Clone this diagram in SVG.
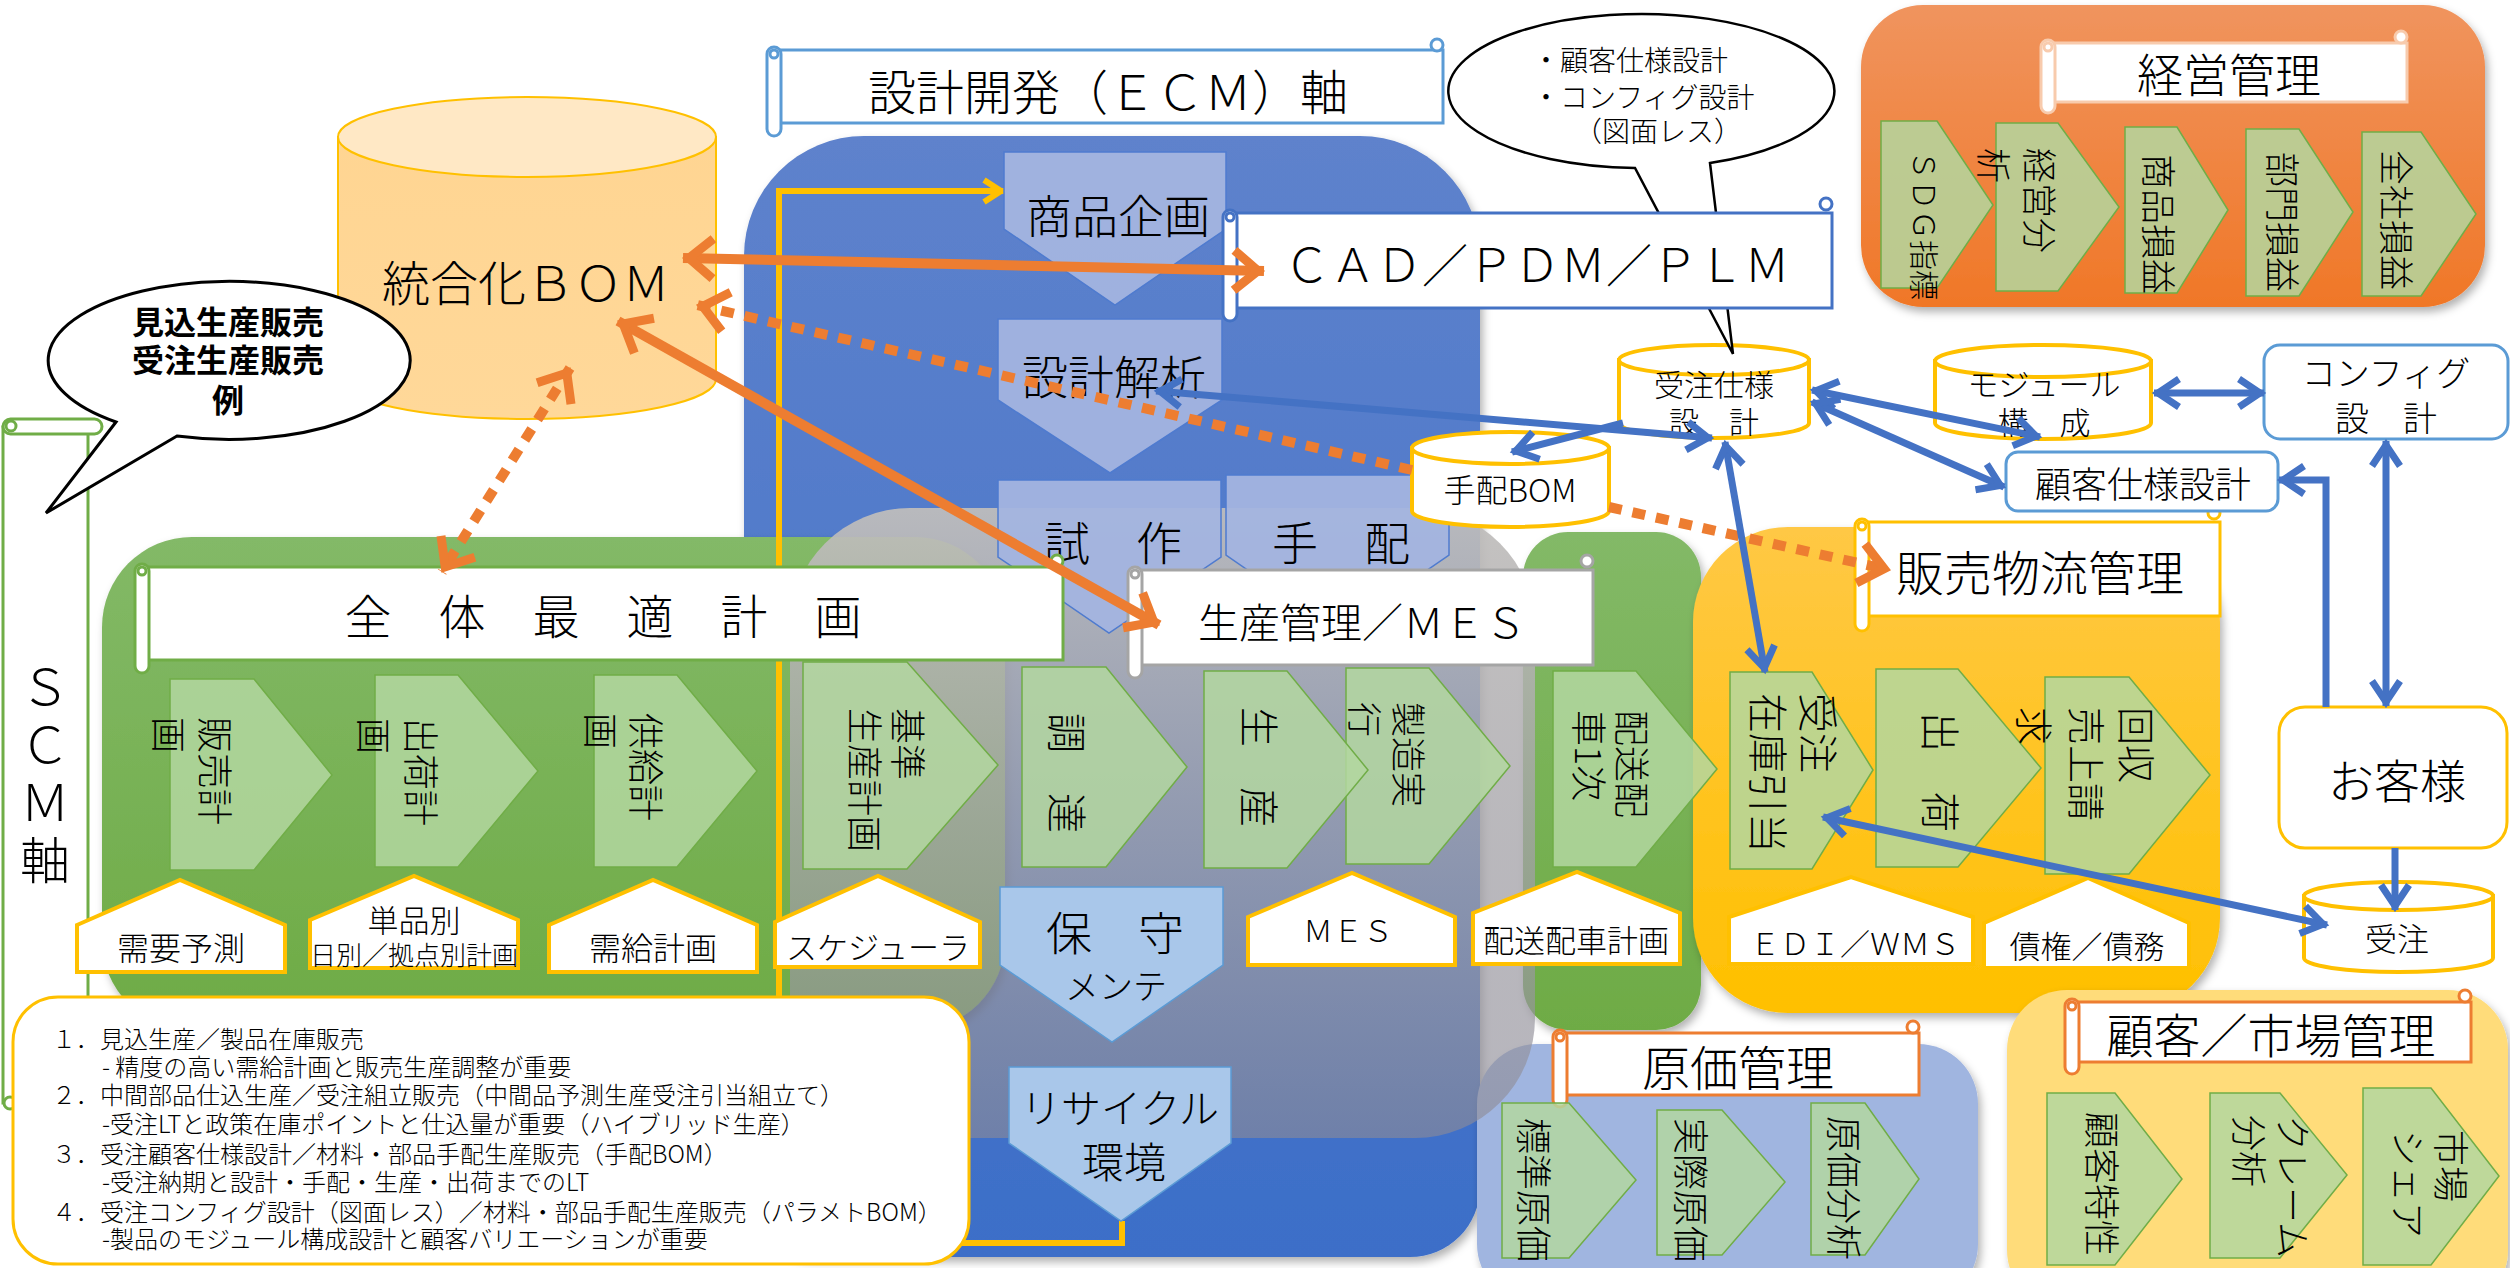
<svg xmlns="http://www.w3.org/2000/svg" width="2510" height="1268" viewBox="0 0 2510 1268">
<defs>
<style>
text{font-family:"Noto Sans CJK JP","Noto Sans",sans-serif;fill:#000;font-weight:300}
.c{text-anchor:middle;dominant-baseline:central}
.v{dominant-baseline:central}
.l{dominant-baseline:central}
.pg{fill:#B3D7A0;fill-opacity:.85;stroke:#70AD47;stroke-width:1.5}
.pb{fill:#A3B4DF;fill-opacity:.95;stroke:#4F7BCF;stroke-width:1.5}
.pl{fill:#A9C7EA;stroke:#5B9BD5;stroke-width:1.5}
.hs{fill:#fff;stroke:#FFC000;stroke-width:4}
.cy{fill:#fff;stroke:#FFC000;stroke-width:4}
.sb{fill:#fff;stroke-width:3}
.ol{fill:none;stroke:#ED7D31;stroke-width:10}
.od{fill:none;stroke:#ED7D31;stroke-width:10;stroke-dasharray:13 11}
.bl{fill:none;stroke:#4472C4;stroke-width:7}
.yl{fill:none;stroke:#FFC000;stroke-width:6}
</style>
<linearGradient id="gBlue" x1="0" y1="0" x2="0" y2="1"><stop offset="0" stop-color="#5E82CC"/><stop offset="1" stop-color="#3C6EC8"/></linearGradient>
<linearGradient id="gGreen" x1="0" y1="0" x2="0" y2="1"><stop offset="0" stop-color="#83B967"/><stop offset="1" stop-color="#6EAB45"/></linearGradient>
<linearGradient id="gYel" x1="0" y1="0" x2="0" y2="1"><stop offset="0" stop-color="#FFC845"/><stop offset="1" stop-color="#FFC000"/></linearGradient>
<linearGradient id="gOr" x1="0" y1="0" x2="0" y2="1"><stop offset="0" stop-color="#F0945E"/><stop offset="1" stop-color="#F07727"/></linearGradient>
<linearGradient id="gGray" x1="0" y1="0" x2="0" y2="1"><stop offset="0" stop-color="rgb(192,190,188)" stop-opacity=".93"/><stop offset="1" stop-color="rgb(140,138,150)" stop-opacity=".62"/></linearGradient>
<linearGradient id="gCyl" x1="0" y1="0" x2="0" y2="1"><stop offset="0" stop-color="#FFD592"/><stop offset="1" stop-color="#FFD899"/></linearGradient>
<filter id="sh" x="-5%" y="-5%" width="112%" height="115%"><feDropShadow dx="3" dy="5" stdDeviation="4" flood-color="#000" flood-opacity=".3"/></filter>
<marker id="ao" viewBox="-34 -26 40 52" markerWidth="40" markerHeight="52" refX="0" refY="0" orient="auto-start-reverse" markerUnits="userSpaceOnUse"><path d="M-30,-20 L-6,0 L-30,20" fill="none" stroke="#ED7D31" stroke-width="9" stroke-dasharray="none"/></marker>
<marker id="ab" viewBox="-30 -18 34 36" markerWidth="34" markerHeight="36" refX="0" refY="0" orient="auto-start-reverse" markerUnits="userSpaceOnUse"><path d="M-25,-14 L-4,0 L-25,14" fill="none" stroke="#4472C4" stroke-width="7"/></marker>
<marker id="ay" viewBox="-24 -14 28 28" markerWidth="28" markerHeight="28" refX="0" refY="0" orient="auto" markerUnits="userSpaceOnUse"><path d="M-20,-11 L-3,0 L-20,11" fill="none" stroke="#FFC000" stroke-width="6"/></marker>
</defs>
<rect width="2510" height="1268" fill="#fff"/>

<!-- panels -->
<g id="panel-ecm" filter="url(#sh)"><path d="M744,256 A120 120 0 0 1 864,136 H1360 A120 120 0 0 1 1480,256 V1187 A70 70 0 0 1 1410,1257 H814 A70 70 0 0 1 744,1187 Z" fill="url(#gBlue)"/></g>
<g id="panel-scm" filter="url(#sh)"><rect x="102" y="537" width="903" height="493" rx="90" fill="url(#gGreen)"/></g>
<g id="panel-delivery" filter="url(#sh)"><rect x="1523" y="532" width="178" height="498" rx="45" fill="url(#gGreen)"/></g>
<g id="panel-sales" filter="url(#sh)"><rect x="1693" y="527" width="527" height="486" rx="95" fill="url(#gYel)"/></g>
<g id="panel-mgmt" filter="url(#sh)"><rect x="1861" y="5" width="624" height="302" rx="62" fill="url(#gOr)"/></g>
<g id="panel-cost" filter="url(#sh)"><rect x="1477" y="1044" width="501" height="260" rx="60" fill="#A0B5E0"/></g>
<g id="panel-customer" filter="url(#sh)"><rect x="2007" y="990" width="501" height="320" rx="60" fill="#FFDC7A"/></g>
<g id="panel-production"><rect x="790" y="508" width="745" height="630" rx="120" fill="url(#gGray)"/></g>

<!-- ECM loop line -->
<g id="ecm-loop"><path class="yl" d="M1122,1221 V1243 H779 V191 H1004" marker-end="url(#ay)"/></g>

<!-- ECM steps -->
<g id="n-shohin"><polygon class="pb" points="1004,152 1226,152 1226,229 1115,305 1004,229"/><text class="c" x="1118" y="213" font-size="46">商品企画</text></g>
<g id="n-sekkei"><polygon class="pb" points="998,319 1222,319 1222,400 1110,473 998,400"/><text class="c" x="1114" y="374" font-size="46">設計解析</text></g>
<g id="n-shisaku"><polygon class="pb" points="998,480 1221,480 1221,557 1109,633 998,557"/><text class="c" x="1113" y="540" font-size="46">試　作</text></g>
<g id="n-tehai"><polygon class="pb" points="1226,475 1449,475 1449,555 1337,632 1226,555"/><text class="c" x="1341" y="540" font-size="46">手　配</text></g>
<g id="n-hoshu"><polygon class="pl" points="1000,887 1223,887 1223,965 1112,1042 1000,965"/><text class="c" x="1115" y="930" font-size="46">保　守</text><text class="c" x="1116" y="984" font-size="34">メンテ</text></g>
<g id="n-recycle"><polygon class="pl" points="1009,1067 1231,1067 1231,1143 1121,1221 1009,1143"/><text class="c" x="1120" y="1106" font-size="40">リサイクル</text><text class="c" x="1124" y="1159" font-size="42">環境</text></g>

<!-- SCM scroll (vertical) -->
<g id="n-scm-axis">
<g class="sb" stroke="#70AD47"><rect x="3" y="427" width="85" height="676"/><rect x="3" y="419" width="99" height="15" rx="7.5"/><circle cx="11" cy="426" r="5"/><circle cx="10" cy="1103" r="6"/></g>
<text class="c" x="45" y="683" font-size="50">Ｓ</text><text class="c" x="45" y="741" font-size="50">Ｃ</text><text class="c" x="45" y="799" font-size="50">Ｍ</text><text class="c" x="45" y="857" font-size="50">軸</text>
</g>

<!-- Scroll titles -->
<g id="n-ecm-title"><g class="sb" stroke="#5B9BD5"><rect x="774" y="50" width="669" height="73"/><rect x="767" y="47" width="14" height="89" rx="7"/><circle cx="774" cy="54" r="4"/><circle cx="1437" cy="45" r="6"/></g><text class="c" x="1108" y="89" font-size="48">設計開発（ＥＣＭ）軸</text></g>
<g id="n-zentai"><g class="sb" stroke="#70AD47"><rect x="142" y="567" width="921" height="93"/><rect x="135" y="564" width="14" height="109" rx="7"/><circle cx="142" cy="571" r="4"/><circle cx="1057" cy="561" r="6"/></g><text class="c" x="603" y="613" font-size="47">全　体　最　適　計　画</text></g>
<g id="n-seisan-kanri"><g class="sb" stroke="#A5A5A5"><rect x="1135" y="570" width="458" height="95"/><rect x="1128" y="567" width="14" height="111" rx="7"/><circle cx="1135" cy="574" r="4"/><circle cx="1587" cy="561" r="6"/></g><text class="c" x="1362" y="620" font-size="41">生産管理／ＭＥＳ</text></g>
<g id="n-hanbai-title"><g class="sb" stroke="#FFC000"><rect x="1862" y="522" width="358" height="94"/><rect x="1855" y="519" width="14" height="112" rx="7"/><circle cx="1862" cy="526" r="4"/><circle cx="2214" cy="513" r="6"/></g><text class="c" x="2040" y="570" font-size="48">販売物流管理</text></g>
<g id="n-keiei-title"><g class="sb" stroke="#F8CBAD" stroke-width="1.5"><rect x="2048" y="43" width="359" height="59"/><rect x="2041" y="40" width="14" height="73" rx="7"/><circle cx="2048" cy="47" r="4"/><circle cx="2401" cy="37" r="6"/></g><text class="c" x="2229" y="72" font-size="46">経営管理</text></g>
<g id="n-genka-title"><g class="sb" stroke="#ED7D31"><rect x="1560" y="1033" width="359" height="62"/><rect x="1553" y="1030" width="14" height="77" rx="7"/><circle cx="1560" cy="1037" r="4"/><circle cx="1913" cy="1027" r="6"/></g><text class="c" x="1738" y="1065" font-size="48">原価管理</text></g>
<g id="n-kokyaku-title"><g class="sb" stroke="#ED7D31"><rect x="2072" y="1002" width="399" height="60"/><rect x="2065" y="999" width="14" height="75" rx="7"/><circle cx="2072" cy="1006" r="4"/><circle cx="2465" cy="996" r="6"/></g><text class="c" x="2271" y="1032" font-size="47">顧客／市場管理</text></g>

<!-- SCM steps -->
<g id="n-hanbai-keikaku"><polygon class="pg" points="170,679 254,679 332,775 254,870 170,870"/><text class="v" transform="translate(217,717) rotate(90)" font-size="36">販売計</text><text class="v" transform="translate(171,717) rotate(90)" font-size="36">画</text></g>
<g id="n-shukka-keikaku"><polygon class="pg" points="375,675 458,675 538,771 458,867 375,867"/><text class="v" transform="translate(423,718) rotate(90)" font-size="36">出荷計</text><text class="v" transform="translate(376,718) rotate(90)" font-size="36">画</text></g>
<g id="n-kyokyu-keikaku"><polygon class="pg" points="594,675 677,675 757,771 677,867 594,867"/><text class="v" transform="translate(648,713) rotate(90)" font-size="36">供給計</text><text class="v" transform="translate(603,713) rotate(90)" font-size="36">画</text></g>
<g id="n-kijun"><polygon class="pg" points="803,662 907,662 998,765 907,869 803,869"/><text class="v" transform="translate(910,708) rotate(90)" font-size="36">基準</text><text class="v" transform="translate(867,708) rotate(90)" font-size="36">生産計画</text></g>
<g id="n-chotatsu"><polygon class="pg" points="1022,667 1106,667 1187,767 1106,867 1022,867"/><text class="v" transform="translate(1069,713) rotate(90)" font-size="40">調　達</text></g>
<g id="n-seizo"><polygon class="pg" points="1346,668 1429,668 1510,766 1429,864 1346,864"/><text class="v" transform="translate(1410,702) rotate(90)" font-size="35">製造実</text><text class="v" transform="translate(1366,702) rotate(90)" font-size="35">行</text></g>
<g id="n-seisan"><polygon class="pg" points="1204,671 1287,671 1368,770 1287,868 1204,868"/><text class="v" transform="translate(1261,707) rotate(90)" font-size="40">生　産</text></g>
<g id="n-haiso"><polygon class="pg" points="1553,671 1636,671 1717,769 1636,867 1553,867"/><text class="v" transform="translate(1634,710) rotate(90)" font-size="36">配送配</text><text class="v" transform="translate(1591,710) rotate(90)" font-size="36">車1次</text></g>
<g id="n-juchu-hikiate"><polygon class="pg" points="1730,672 1812,672 1873,770 1812,869 1730,869"/><text class="v" transform="translate(1820,693) rotate(90)" font-size="40">受注</text><text class="v" transform="translate(1770,693) rotate(90)" font-size="40">在庫引当</text></g>
<g id="n-shukka"><polygon class="pg" points="1876,669 1958,669 2041,768 1958,867 1876,867"/><text class="v" transform="translate(1942,712) rotate(90)" font-size="40">出　荷</text></g>
<g id="n-kaishu"><polygon class="pg" points="2045,677 2129,677 2210,775 2129,874 2045,874"/><text class="v" transform="translate(2138,707) rotate(90)" font-size="38">回収</text><text class="v" transform="translate(2088,707) rotate(90)" font-size="38">売上請</text><text class="v" transform="translate(2036,707) rotate(90)" font-size="38">求</text></g>

<!-- management steps -->
<g id="n-sdg"><polygon class="pg" points="1881,121 1937,121 1993,205 1937,288 1881,288"/><text class="v" transform="translate(1926,150) rotate(90)" font-size="30">ＳＤＧ指標</text></g>
<g id="n-keiei-bunseki"><polygon class="pg" points="1996,123 2058,123 2119,207 2058,291 1996,291"/><text class="v" transform="translate(2041,148) rotate(90)" font-size="35">経営分</text><text class="v" transform="translate(1995,148) rotate(90)" font-size="35">析</text></g>
<g id="n-shohin-soneki"><polygon class="pg" points="2125,127 2177,127 2228,210 2177,293 2125,293"/><text class="v" transform="translate(2160,154) rotate(90)" font-size="35">商品損益</text></g>
<g id="n-bumon-soneki"><polygon class="pg" points="2246,129 2299,129 2353,212 2299,296 2246,296"/><text class="v" transform="translate(2284,152) rotate(90)" font-size="35">部門損益</text></g>
<g id="n-zensha-soneki"><polygon class="pg" points="2362,132 2421,132 2476,214 2421,296 2362,296"/><text class="v" transform="translate(2398,150) rotate(90)" font-size="35">全社損益</text></g>

<!-- cost steps -->
<g id="n-hyojun"><polygon class="pg" points="1502,1103 1569,1103 1636,1180 1569,1258 1502,1258"/><text class="v" transform="translate(1536,1118) rotate(90)" font-size="36">標準原価</text></g>
<g id="n-jissai"><polygon class="pg" points="1657,1110 1722,1110 1785,1182 1722,1255 1657,1255"/><text class="v" transform="translate(1693,1118) rotate(90)" font-size="36">実際原価</text></g>
<g id="n-genka-bunseki"><polygon class="pg" points="1811,1103 1865,1103 1919,1179 1865,1255 1811,1255"/><text class="v" transform="translate(1846,1116) rotate(90)" font-size="36">原価分析</text></g>

<!-- customer steps -->
<g id="n-kokyaku-tokusei"><polygon class="pg" points="2047,1093 2115,1093 2182,1179 2115,1265 2047,1265"/><text class="v" transform="translate(2104,1112) rotate(90)" font-size="36">顧客特性</text></g>
<g id="n-claim"><polygon class="pg" points="2210,1093 2280,1093 2347,1175 2280,1258 2210,1258"/><text class="v" transform="translate(2295,1115) rotate(90)" font-size="36">クレーム</text><text class="v" transform="translate(2251,1115) rotate(90)" font-size="36">分析</text></g>
<g id="n-share"><polygon class="pg" points="2363,1088 2431,1088 2499,1176 2431,1265 2363,1265"/><text class="v" transform="translate(2453,1130) rotate(90)" font-size="36">市場</text><text class="v" transform="translate(2410,1130) rotate(90)" font-size="36">シェア</text></g>

<!-- house shapes -->
<g id="h-juyo"><polygon class="hs" points="77,925 180,880 285,925 285,972 77,972"/><text class="c" x="181" y="946" font-size="32">需要予測</text></g>
<g id="h-tanpin"><polygon class="hs" points="310,920 414,876 518,920 518,968 310,968"/><text class="c" x="414" y="918" font-size="31">単品別</text><text class="c" x="414" y="953" font-size="26">日別／拠点別計画</text></g>
<g id="h-jukyu"><polygon class="hs" points="549,925 653,880 757,925 757,972 549,972"/><text class="c" x="653" y="946" font-size="32">需給計画</text></g>
<g id="h-scheduler"><polygon class="hs" points="775,922 878,876 980,922 980,967 775,967"/><text class="c" x="878" y="945" font-size="31">スケジューラ</text></g>
<g id="h-mes"><polygon class="hs" points="1248,917 1352,873 1455,917 1455,965 1248,965"/><text class="c" x="1348" y="929" font-size="30">ＭＥＳ</text></g>
<g id="h-haisha"><polygon class="hs" points="1473,913 1577,872 1680,913 1680,964 1473,964"/><text class="c" x="1576" y="938" font-size="31">配送配車計画</text></g>
<g id="h-edi"><polygon class="hs" points="1729,917 1851,877 1973,917 1973,964 1729,964"/><text class="c" x="1855" y="942" font-size="30">ＥＤＩ／ＷＭＳ</text></g>
<g id="h-saiken"><polygon class="hs" points="1984,923 2088,878 2189,923 2189,968 1984,968"/><text class="c" x="2087" y="944" font-size="31">債権／債務</text></g>

<!-- databases -->
<g id="n-togo-bom"><path d="M338,137 V379 A189 40 0 0 0 716,379 V137 Z" fill="url(#gCyl)" stroke="#FFC000" stroke-width="2"/><ellipse cx="527" cy="137" rx="189" ry="40" fill="#FFE8C5" stroke="#FFC000" stroke-width="2"/><text class="c" x="526" y="280" font-size="48">統合化ＢＯＭ</text></g>
<g id="n-juchu-shiyo"><path class="cy" d="M1619,360 V423 A95 15 0 0 0 1809,423 V360 Z"/><ellipse class="cy" cx="1714" cy="360" rx="95" ry="15"/><text class="c" x="1714" y="383" font-size="30">受注仕様</text><text class="c" x="1714" y="420" font-size="30">設　計</text></g>
<g id="n-tehai-bom"><path class="cy" d="M1412,448 V511 A98.5 16 0 0 0 1609,511 V448 Z"/><ellipse class="cy" cx="1510.5" cy="448" rx="98.5" ry="16"/><text class="c" x="1510" y="488" font-size="32">手配BOM</text></g>
<g id="n-module"><path class="cy" d="M1935,361 V423 A108 16 0 0 0 2151,423 V361 Z"/><ellipse class="cy" cx="2043" cy="361" rx="108" ry="16"/><text class="c" x="2044" y="382" font-size="31">モジュール</text><text class="c" x="2044" y="420" font-size="31">構　成</text></g>
<g id="n-juchu"><path class="cy" d="M2304,896 V958 A94.5 14 0 0 0 2493,958 V896 Z"/><ellipse class="cy" cx="2398.5" cy="896" rx="94.5" ry="14"/><text class="c" x="2397" y="937" font-size="32">受注</text></g>

<!-- boxes -->
<g id="n-config"><rect x="2264" y="345" width="244" height="94" rx="16" fill="#fff" stroke="#5B9BD5" stroke-width="3"/><text class="c" x="2386" y="371" font-size="34">コンフィグ</text><text class="c" x="2386" y="416" font-size="34">設　計</text></g>
<g id="n-kokyaku-shiyo"><rect x="2006" y="452" width="272" height="59" rx="12" fill="#fff" stroke="#5B9BD5" stroke-width="3"/><text class="c" x="2143" y="482" font-size="36">顧客仕様設計</text></g>
<g id="n-okyakusama"><rect x="2279" y="707" width="228" height="141" rx="26" fill="#fff" stroke="#FFC000" stroke-width="3"/><text class="c" x="2397" y="778" font-size="46">お客様</text></g>

<!-- top callout -->
<g id="n-callout-top"><path d="M1710,163 L1733,354 L1635,168 A193 77 0 1 1 1710,163 Z" fill="#fff" stroke="#000" stroke-width="2.5"/><text class="l" x="1532" y="59" font-size="28">・顧客仕様設計</text><text class="l" x="1532" y="96" font-size="28">・コンフィグ設計</text><text class="l" x="1574" y="130" font-size="28">（図面レス）</text></g>

<!-- CAD scroll (over callout tail) -->
<g id="n-cad"><g class="sb" stroke="#4472C4"><rect x="1230" y="213" width="602" height="95"/><rect x="1223" y="210" width="14" height="111" rx="7"/><circle cx="1230" cy="217" r="4"/><circle cx="1826" cy="204" r="6"/></g><text class="c" x="1537" y="262" font-size="46">ＣＡＤ／ＰＤＭ／ＰＬＭ</text></g>

<!-- connectors -->
<g id="connectors">
<path class="ol" d="M683,258 L1264,271" marker-start="url(#ao)" marker-end="url(#ao)"/>
<path class="od" d="M1412,470 L697,305" marker-end="url(#ao)"/>
<path class="od" d="M1609,507 L1890,570" marker-end="url(#ao)"/>
<path class="ol" d="M618,321 L1159,625" marker-start="url(#ao)" marker-end="url(#ao)"/>
<path class="od" d="M570,368 L442,572" marker-start="url(#ao)" marker-end="url(#ao)"/>
<path class="bl" d="M1156,391 L1712,438" marker-start="url(#ab)" marker-end="url(#ab)"/>
<path class="bl" d="M1623,423 L1512,452" marker-end="url(#ab)"/>
<path class="bl" d="M1725,442 L1765,672" marker-start="url(#ab)" marker-end="url(#ab)"/>
<path class="bl" d="M1812,390 L2040,437" marker-start="url(#ab)" marker-end="url(#ab)"/>
<path class="bl" d="M1812,402 L2004,487" marker-start="url(#ab)" marker-end="url(#ab)"/>
<path class="bl" d="M2154,393 L2264,393" marker-start="url(#ab)" marker-end="url(#ab)"/>
<path class="bl" d="M2326,707 V480 H2279" marker-end="url(#ab)"/>
<path class="bl" d="M2386,441 L2386,706" marker-start="url(#ab)" marker-end="url(#ab)"/>
<path class="bl" d="M2395,848 L2395,910" marker-end="url(#ab)"/>
<path class="bl" d="M1823,817 L2327,925" marker-start="url(#ab)" marker-end="url(#ab)"/>
</g>

<!-- left callout -->
<g id="n-callout-left"><path d="M116,422 L46,513 L177,436 A181 79 0 1 0 116,422 Z" fill="#fff" stroke="#000" stroke-width="3"/><text class="c" x="228" y="320" font-size="32" style="font-weight:700">見込生産販売</text><text class="c" x="228" y="358" font-size="32" style="font-weight:700">受注生産販売</text><text class="c" x="228" y="398" font-size="32" style="font-weight:700">例</text></g>

<!-- notes box -->
<g id="n-notes"><rect x="13" y="997" width="956" height="267" rx="45" fill="#fff" stroke="#FFC000" stroke-width="3"/>
<text class="l" x="52" y="1037" font-size="24">１．見込生産／製品在庫販売</text>
<text class="l" x="102" y="1065" font-size="24">- 精度の高い需給計画と販売生産調整が重要</text>
<text class="l" x="52" y="1093" font-size="24">２．中間部品仕込生産／受注組立販売（中間品予測生産受注引当組立て）</text>
<text class="l" x="102" y="1122" font-size="24">-受注LTと政策在庫ポイントと仕込量が重要（ハイブリッド生産）</text>
<text class="l" x="52" y="1152" font-size="24">３．受注顧客仕様設計／材料・部品手配生産販売（手配BOM）</text>
<text class="l" x="102" y="1180" font-size="24">-受注納期と設計・手配・生産・出荷までのLT</text>
<text class="l" x="52" y="1210" font-size="24">４．受注コンフィグ設計（図面レス）／材料・部品手配生産販売（パラメトBOM）</text>
<text class="l" x="102" y="1237" font-size="24">-製品のモジュール構成設計と顧客バリエーションが重要</text>
</g>
</svg>
